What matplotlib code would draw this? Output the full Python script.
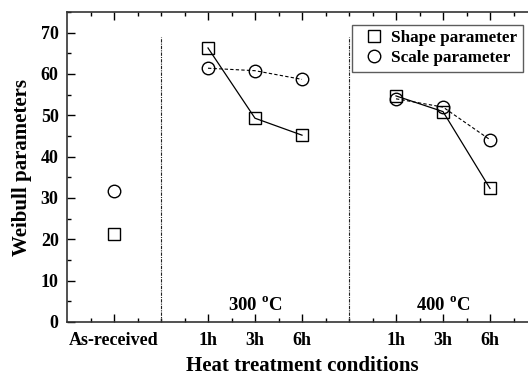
import matplotlib
matplotlib.use("Agg")
import matplotlib.pyplot as plt
from matplotlib.ticker import MultipleLocator, FixedLocator

plt.rcParams['font.family'] = ['Liberation Serif', 'DejaVu Serif']
plt.rcParams['font.weight'] = 'bold'
plt.rcParams['mathtext.fontset'] = 'custom'
plt.rcParams['mathtext.bf'] = 'Liberation Serif:bold'
plt.rcParams['mathtext.rm'] = 'Liberation Serif:bold'

# Data
asr_x = [1]
asr_shape = [21.2]
asr_scale = [31.7]

x300 = [3, 4, 5]
shape300 = [66.3, 49.3, 45.2]
scale300 = [61.4, 60.8, 58.7]

x400 = [7, 8, 9]
shape400 = [54.7, 50.9, 32.3]
scale400 = [54.0, 52.0, 44.1]

tick_pos = [1, 3, 4, 5, 7, 8, 9]
tick_labels = ['As-received', '1h', '3h', '6h', '1h', '3h', '6h']

fig = plt.figure(figsize=(5.28, 3.75), dpi=100)
ax = fig.add_axes([67/528, 53/375, 470/528, 310/375])

ms = 8.5
sq = dict(marker='s', markersize=ms, markerfacecolor='none', markeredgecolor='black', markeredgewidth=1.0)
ci = dict(marker='o', markersize=ms+0.5, markerfacecolor='none', markeredgecolor='black', markeredgewidth=1.0)

ax.plot(asr_x, asr_shape, linestyle='none', **sq)
ax.plot(asr_x, asr_scale, linestyle='none', **ci)
ax.plot(x300, shape300, color='black', lw=0.9, linestyle='-', **sq)
ax.plot(x300, scale300, color='black', lw=0.8, linestyle=(0, (3, 2)), **ci)
ax.plot(x400, shape400, color='black', lw=0.9, linestyle='-', **sq)
ax.plot(x400, scale400, color='black', lw=0.8, linestyle=(0, (3, 2)), **ci)

# legend handles
h1, = ax.plot([], [], linestyle='none', label='Shape parameter', **sq)
h2, = ax.plot([], [], linestyle='none', label='Scale parameter', **ci)

for xv in [2, 6]:
    ax.plot([xv, xv], [0, 69], color='#222222', lw=0.8, linestyle=(0, (3, 1, 1, 1)))

ax.text(4, 2.9, '300 $^{\\mathbf{o}}$C', ha='center', va='baseline', fontsize=13.5, fontweight='bold')
ax.text(8, 2.9, '400 $^{\\mathbf{o}}$C', ha='center', va='baseline', fontsize=13.5, fontweight='bold')

ax.set_xlim(0, 10)
ax.set_ylim(0, 75)
ax.xaxis.set_major_locator(FixedLocator(tick_pos))
ax.set_xticklabels(tick_labels)
ax.xaxis.set_minor_locator(FixedLocator([0.5, 1.5, 2, 2.5, 3.5, 4.5, 5.5, 6, 6.5, 7.5, 8.5, 9.5]))
ax.yaxis.set_major_locator(MultipleLocator(10))
ax.yaxis.set_minor_locator(MultipleLocator(5))
ax.set_yticks([0, 10, 20, 30, 40, 50, 60, 70])

ax.tick_params(which='both', direction='in', top=True, right=True, labelsize=13)
ax.tick_params(which='major', length=6, width=1.0)
ax.tick_params(which='minor', length=3, width=1.0)
ax.tick_params(axis='x', which='both', pad=7)
ax.tick_params(axis='y', which='both', pad=6)
for lab in ax.get_xticklabels() + ax.get_yticklabels():
    lab.set_fontweight('bold')
for s in ax.spines.values():
    s.set_linewidth(1.2)
    s.set_color('#333333')

ax.set_xlabel('Heat treatment conditions', fontsize=15, fontweight='bold', labelpad=5)
ax.set_ylabel('Weibull parameters', fontsize=15, fontweight='bold')
ax.yaxis.set_label_coords(-0.0735, 0.5)

leg = ax.legend(handles=[h1, h2], loc='upper left', bbox_to_anchor=(285/470, 1 - 13/310),
                fontsize=12.3, frameon=True, fancybox=False, edgecolor='#333333',
                handletextpad=0.0, borderpad=0.3, labelspacing=0.25, handlelength=2.0,
                borderaxespad=0)
leg.get_frame().set_linewidth(1.0)
for t in leg.get_texts():
    t.set_fontweight('bold')

fig.savefig('out.png', dpi=100)
